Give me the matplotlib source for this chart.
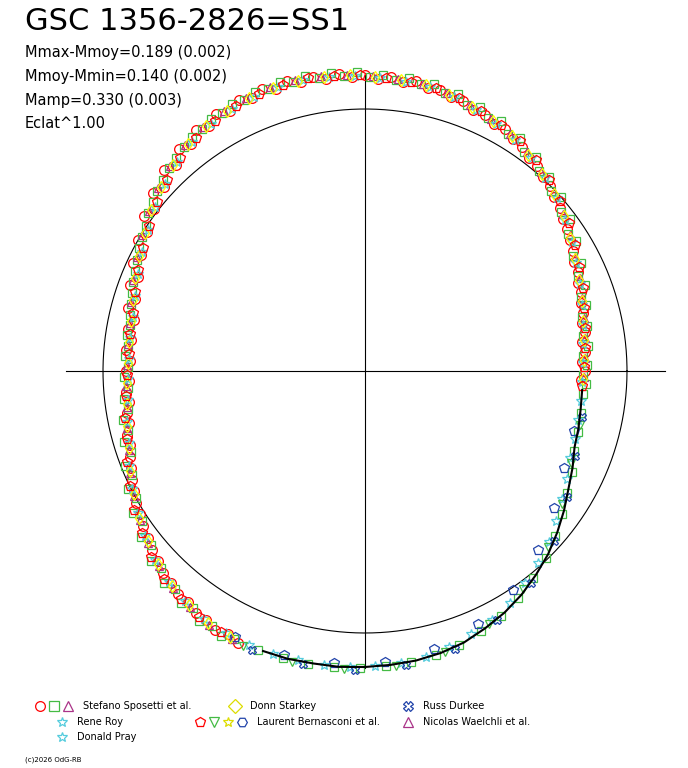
import numpy as np
import matplotlib.pyplot as plt

# centre of the diagram and reference circle (pixels)
cx, cy = 365, 371
r_ref = 262

# light curve radius (px) every 5 deg of phase, clockwise from top
ang = np.arange(0, 360, 5)
rad = np.array([294, 293, 292, 289, 285, 281, 277, 271, 265, 259, 252, 245,
                238, 233, 228, 224, 221, 219, 218, 219, 220, 222, 224, 230,
                236, 244, 252, 260, 267, 274, 280, 285, 290, 293, 295, 296,
                297, 298, 298, 299, 299, 298, 297, 293, 289, 283, 276, 269,
                262, 255, 248, 244, 240, 238, 237, 238, 239, 243, 248, 254,
                260, 268, 275, 282, 288, 292, 295, 297, 298, 298, 297, 296])

def xy(a, r):
    t = np.radians(a)
    return cx + r * np.sin(t), cy - r * np.cos(t)

fig = plt.figure(figsize=(6.88, 7.68), dpi=100)
ax = fig.add_axes([0, 0, 1, 1])
ax.set_xlim(0, 688)
ax.set_ylim(768, 0)
ax.axis('off')

t = np.linspace(0, 2 * np.pi, 400)
ax.plot(cx + r_ref * np.cos(t), cy + r_ref * np.sin(t), color='black', lw=0.8)
ax.plot([66, 665], [cy, cy], color='black', lw=0.8)
ax.plot([cx, cx], [75, 668], color='black', lw=0.8)

# fitted curve on the lower right
m = (ang >= 95) & (ang <= 200)
ax.plot(*xy(ang[m], rad[m] - 1), color='black', lw=1.5, zorder=5)

main = (ang < 95) | (ang > 200)
low = ~main & (ang % 10 == 0)
# (marker, colour, size, phase shift, radius shift, mask)
series = [
    ('o', 'red', 7, 0, 2, main),
    ('o', 'red', 7, 2.5, -2, main),
    ('s', '#44bb44', 5.5, 1, 0, np.ones(len(ang), bool)),
    ('s', '#44bb44', 5.5, 3.5, 3, main),
    ('^', '#aa3388', 6, 1.5, 1, main),
    ('*', '#55ccdd', 7, 3, -1, np.ones(len(ang), bool)),
    ('v', '#44bb44', 6, 4, 2, low),
    ('X', '#2244aa', 6, 2, 2, low),
    ('p', '#2244aa', 7, 6, -3, low),
    ('d', 'yellow', 6, 2, 0, main),
    ('p', 'red', 7, 4, 0, main),
]
for mk, col, ms, da, dr, sel in series:
    x, y = xy(ang[sel] + da, rad[sel] + dr)
    ax.plot(x, y, ls='none', marker=mk, ms=ms, mfc='none', mec=col, mew=0.9)

ax.text(25, 22, 'GSC 1356-2826=SS1', fontsize=22, va='center')
stats = ['Mmax-Mmoy=0.189 (0.002)', 'Mmoy-Mmin=0.140 (0.002)',
         'Mamp=0.330 (0.003)', 'Eclat^1.00']
for i, s in enumerate(stats):
    ax.text(25, 52 + i * 24, s, fontsize=10.5, va='center')

# legend
leg = [
    (40, 706, [('o', 'red'), ('s', '#44bb44'), ('^', '#aa3388')], 'Stefano Sposetti et al.'),
    (62, 722, [('*', '#55ccdd')], 'Rene Roy'),
    (62, 737, [('*', '#55ccdd')], 'Donald Pray'),
    (235, 706, [('D', '#dddd00')], 'Donn Starkey'),
    (200, 722, [('p', 'red'), ('v', '#44bb44'), ('*', '#dddd00'), ('H', '#2244aa')], 'Laurent Bernasconi et al.'),
    (408, 706, [('X', '#2244aa')], 'Russ Durkee'),
    (408, 722, [('^', '#aa3388')], 'Nicolas Waelchli et al.'),
]
for x0, y0, mks, label in leg:
    for j, (mk, col) in enumerate(mks):
        ax.plot(x0 + j * 14, y0, marker=mk, ms=7, mfc='none', mec=col, mew=0.9)
    ax.text(x0 + len(mks) * 14 + 1, y0, label, fontsize=7, va='center')
ax.text(25, 760, '(c)2026 OdG-RB', fontsize=5, va='center')

fig.savefig('out.png', dpi=100)
